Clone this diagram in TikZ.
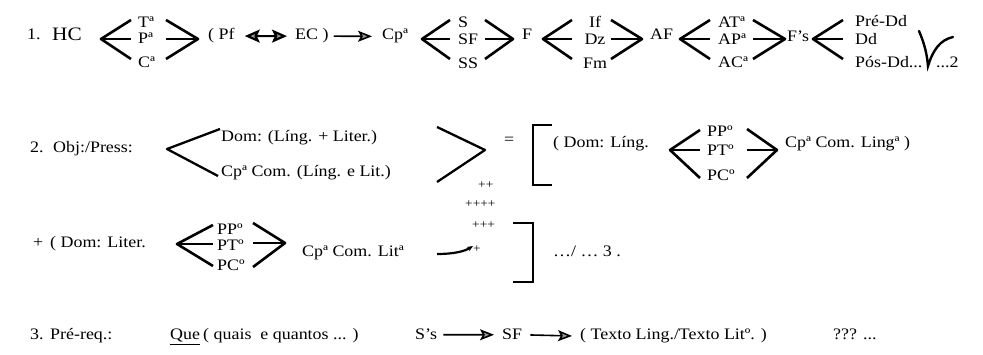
\documentclass[tikz,border=0pt]{standalone}
\usepackage{fontspec}
\setmainfont{Liberation Serif}[FakeStretch=1.12]
\usetikzlibrary{arrows.meta}
\newcommand\fs{\fontsize{16pt}{18pt}\selectfont}
\newcommand\fsbig{\fontsize{19pt}{21pt}\selectfont}
\newcommand\fssmall{\fontsize{12pt}{14pt}\selectfont}
% chevron with three branches: name, vertex x, tip x, top y, vertex y, bottom y
\newcommand\chvthree[6]{%
  \coordinate (#1v) at (#2,#5);
  \coordinate (#1t) at (#3,#4);
  \coordinate (#1m) at (#3,#5);
  \coordinate (#1b) at (#3,#6);
  \draw[chev] (#1t) -- (#1v) -- (#1b);
  \draw[chev] (#1v) -- (#1m);}
\begin{document}
\begin{tikzpicture}[x=1pt,y=-1pt,
  txt/.style={anchor=base west,inner sep=0pt,font=\fs},
  ctxt/.style={anchor=base,inner sep=0pt,font=\fs},
  chev/.style={line width=2.6pt,line join=round},
  bigchev/.style={line width=2.3pt,line join=round},
  brk/.style={line width=1.8pt},
  arr/.style={line width=1.6pt,-{Stealth[length=14pt,width=11pt,inset=3pt,fill=black!40]}},
  dbl/.style={line width=2.2pt,{Stealth[length=15pt,width=13pt,inset=3pt,fill=black!40]}-{Stealth[length=15pt,width=13pt,inset=3pt,fill=black!40]}}]
\useasboundingbox (0,0) rectangle (983,355);
% ---------- row 1
\node[txt] (n1) at (27,40) {1.};
\node[txt,font=\fsbig] (hc) at (52,41) {HC};
\chvthree{a}{101}{131}{20}{39}{59}
\node[txt] (ta) at (138,28) {Tª};
\node[txt] (pa) at (138,44) {Pª};
\node[txt] (ca) at (138,68) {Cª};
\chvthree{b}{198}{166}{20}{39}{59}
\node[txt] (pf) at (208,40) {( Pf};
\node[txt] (ec) at (295,40) {EC )};
\draw[dbl,shorten <=10pt,shorten >=8pt] (pf.east) -- (ec.west);
\node[txt] (cp1) at (382,40) {Cpª};
\draw[arr,shorten <=5pt,shorten >=10pt] (ec.east) -- (cp1.west);
\chvthree{c}{422}{450}{20}{39}{59}
\node[txt] (s) at (458,28) {S};
\node[txt] (sf) at (458,45) {SF};
\node[txt] (ss) at (458,69) {SS};
\chvthree{d}{513}{485}{20}{39}{59}
\node[txt] (f) at (522,40) {F};
\chvthree{e}{543}{572}{20}{39}{59}
\node[ctxt] (if) at (595,28) {If};
\node[ctxt] (dz) at (595,45) {Dz};
\node[ctxt] (fm) at (595,69) {Fm};
\chvthree{g}{642}{611}{20}{39}{59}
\node[txt] (af) at (650,40) {AF};
\chvthree{h}{680}{710}{20}{39}{59}
\node[txt] (at) at (718,28) {ATª};
\node[txt] (ap) at (718,45) {APª};
\node[txt] (ac) at (718,68) {ACª};
\chvthree{i}{785}{753}{20}{39}{59}
\node[txt] (fs) at (787,42) {F's};
\chvthree{j}{813}{843}{20}{39}{59}
\node[txt] (pre) at (855,27) {Pré-Dd};
\node[txt] (dd) at (855,45) {Dd};
\node[txt] (pos) at (855,68) {Pós-Dd...};
\node[txt] (two) at (936,68) {...2};
\draw[line width=2.4pt,line cap=round] (919,31) .. controls (925,45) and (927,55) .. (928,66)
  .. controls (933,50) and (940,40) .. (953,37);
% ---------- row 2
\node[txt] (n2) at (30,153) {2.};
\node[txt] (obj) at (53,153) {Obj:/Press:};
\coordinate (kv) at (167,149);
\coordinate (kt) at (220,129);
\coordinate (kb) at (218,176);
\draw[bigchev] (kt) -- (kv) -- (kb);
\node[txt] (dom) at (221,142) {Dom: (Líng. + Liter.)};
\node[txt] (cpcom) at (221,177) {Cpª Com. (Líng. e Lit.)};
\coordinate (lv) at (485,150);
\coordinate (lt) at (437,127);
\coordinate (lb) at (437,182);
\draw[bigchev] (lt) -- (lv) -- (lb);
\node[txt,font=\fssmall] (pl1) at (478,189) {++};
\node[txt] (eq) at (504,145) {=};
\draw[brk] (552,125) -| (533,185) -- (552,185);
\node[txt] (domling) at (553,148) {( Dom: Líng.};
\chvthree{m}{670}{700}{130}{150}{178}
\node[txt] (pp1) at (707,137) {PPº};
\node[txt] (pt1) at (707,156) {PTº};
\node[txt] (pc1) at (707,181) {PCº};
\chvthree{n}{777}{747}{129}{150}{178}
\node[txt] (cpling) at (785,148) {Cpª Com. Lingª )};
% ---------- row 3
\node[txt] (plus) at (33,248) {+};
\node[txt] (domlit) at (50,248) {( Dom: Liter.};
\chvthree{o}{177}{213}{225}{244}{266}
\node[txt] (pp2) at (217,235) {PPº};
\node[txt] (pt2) at (217,251) {PTº};
\node[txt] (pc2) at (217,271) {PCº};
\chvthree{q}{285}{253}{223}{243}{267}
\node[txt] (cplit) at (302,257) {Cpª Com. Litª};
\node[txt,font=\fssmall] (pl2) at (465,208) {++++};
\node[txt,font=\fssmall] (pl3) at (472,229) {+++};
\node[txt,font=\fssmall] (pl4) at (473,253) {+};
\coordinate (cvs) at (437,254);
\draw[line width=2.2pt,-{Stealth[length=6pt,width=5pt]}] (cvs) .. controls (455,254) and (465,251) .. (pl4.north west);
\draw[brk] (513,223) -| (533,282) -- (513,282);
\node[txt] (dots3) at (553,257) {…/ … 3 .};
% ---------- row 4
\node[txt] (n3) at (30,340) {3.};
\node[txt] (pre3) at (50,340) {Pré-req.:};
\node[txt] (que) at (170,340) {\underline{Que}};
\node[txt] (quais) at (203,340) {( quais\ \ e quantos ... )};
\node[txt] (ss4) at (415,340) {S's};
\node[txt] (sf4) at (502,340) {SF};
\draw[arr,shorten <=6pt,shorten >=8pt] (ss4.east) -- (sf4.west);
\node[txt] (texto) at (580,340) {( Texto Ling./Texto Litº. )};
\draw[arr,shorten <=8pt,shorten >=8pt] (sf4.east) -- (texto.west);
\node[txt] (q3) at (833,340) {??? ...};
\end{tikzpicture}
\end{document}
